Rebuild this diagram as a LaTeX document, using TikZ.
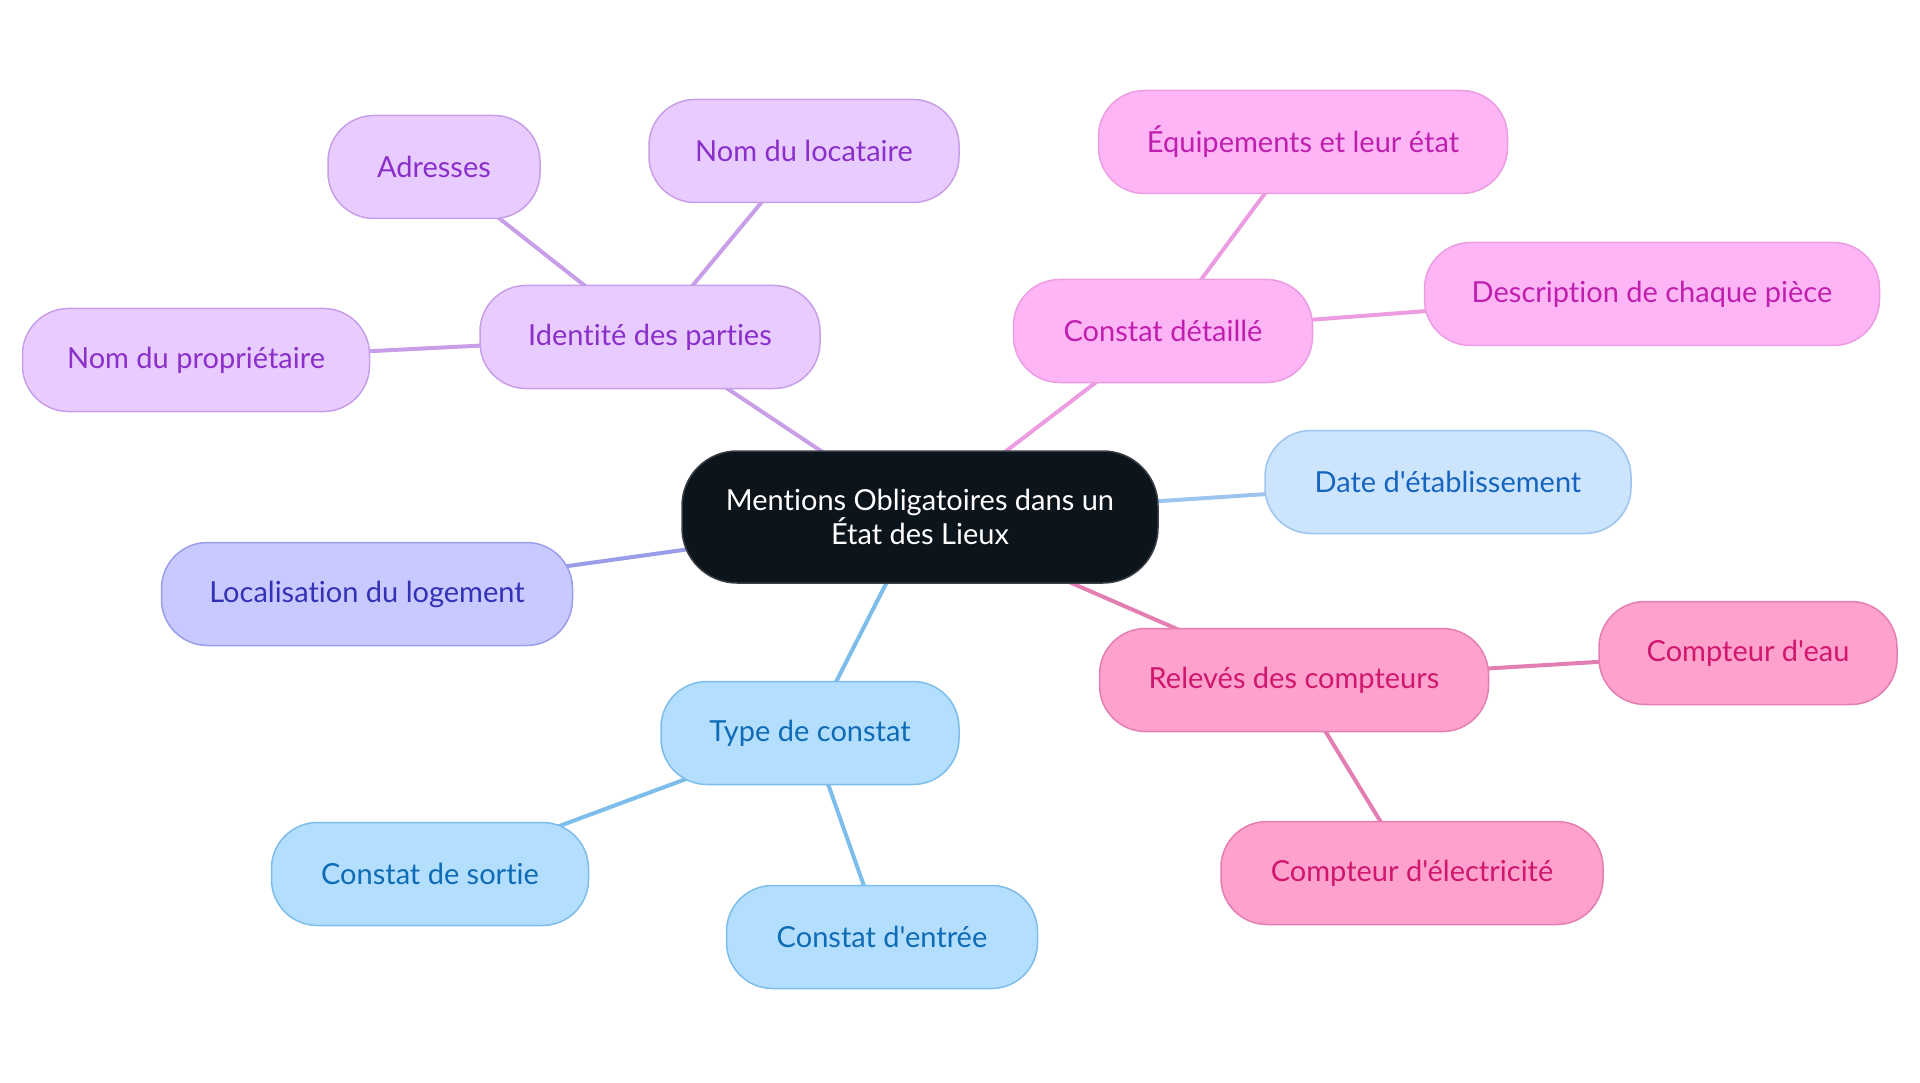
\documentclass[tikz,border=0pt]{standalone}
\usepackage{fontspec}
\setmainfont{Lato}[Ligatures={TeXOff,CommonOff}]
\usetikzlibrary{backgrounds}
\definecolor{cdark}{HTML}{0C141C}
\definecolor{cdarkb}{HTML}{3A3F45}
\definecolor{pufill}{HTML}{E9CCFF}
\definecolor{pudraw}{HTML}{C89EE8}
\definecolor{putext}{HTML}{8A2FC9}
\definecolor{pkfill}{HTML}{FDB5F6}
\definecolor{pkdraw}{HTML}{EC9DE2}
\definecolor{pktext}{HTML}{C01FAE}
\definecolor{rofill}{HTML}{FFA1CD}
\definecolor{rodraw}{HTML}{E37EB2}
\definecolor{rotext}{HTML}{CF176D}
\definecolor{blfill}{HTML}{B3DEFE}
\definecolor{bldraw}{HTML}{7DBDEB}
\definecolor{bltext}{HTML}{0E6BB5}
\definecolor{lbfill}{HTML}{CDE4FD}
\definecolor{lbdraw}{HTML}{9CC4EE}
\definecolor{lbtext}{HTML}{1565BF}
\definecolor{vifill}{HTML}{C8C9FF}
\definecolor{vidraw}{HTML}{9A9DE9}
\definecolor{vitext}{HTML}{3232B6}
\tikzset{
  box/.style={rounded corners=46pt, minimum height=103pt, line width=1.5pt,
    inner sep=0pt, font=\fontsize{29}{32}\selectfont, align=center},
  pu/.style={box, fill=pufill, draw=pudraw, text=putext},
  pk/.style={box, fill=pkfill, draw=pkdraw, text=pktext},
  ro/.style={box, fill=rofill, draw=rodraw, text=rotext},
  bl/.style={box, fill=blfill, draw=bldraw, text=bltext},
  lb/.style={box, fill=lbfill, draw=lbdraw, text=lbtext},
  vi/.style={box, fill=vifill, draw=vidraw, text=vitext},
  edge/.style={line width=4pt},
}
\begin{document}
\begin{tikzpicture}[x=1pt,y=-1pt]
\path[use as bounding box] (0,0) rectangle (1920,1083);
\node[box, fill=cdark, draw=cdarkb, text=white, minimum width=476pt, minimum height=132pt, rounded corners=55pt] (c) at (920,517) {Mentions Obligatoires dans un\\État des Lieux};
\node[pu, minimum width=340pt] (id) at (650,337) {Identité des parties};
\node[pu, minimum width=212pt] (adr) at (434,167) {Adresses};
\node[pu, minimum width=310pt] (loc) at (804,151) {Nom du locataire};
\node[pu, minimum width=347pt] (prop) at (196,360) {Nom du propriétaire};
\node[vi, minimum width=411pt] (loge) at (367,594) {Localisation du logement};
\node[bl, minimum width=298pt] (type) at (810,733) {Type de constat};
\node[bl, minimum width=317pt] (sort) at (430,874) {Constat de sortie};
\node[bl, minimum width=311pt] (entr) at (882,937) {Constat d'entrée};
\node[ro, minimum width=389pt] (rel) at (1294,680) {Relevés des compteurs};
\node[ro, minimum width=298pt] (eau) at (1748,653) {Compteur d'eau};
\node[ro, minimum width=382pt] (elec) at (1412,873) {Compteur d'électricité};
\node[lb, minimum width=366pt] (date) at (1448,482) {Date d'établissement};
\node[pk, minimum width=299pt] (det) at (1163,331) {Constat détaillé};
\node[pk, minimum width=409pt] (equ) at (1303,142) {Équipements et leur état};
\node[pk, minimum width=455pt] (desc) at (1652,294) {Description de chaque pièce};
\begin{scope}[on background layer]
\draw[edge, draw=pudraw] (c.center) -- (id.center);
\draw[edge, draw=pudraw] (id.center) -- (adr.center);
\draw[edge, draw=pudraw] (id.center) -- (loc.center);
\draw[edge, draw=pudraw] (id.center) -- (prop.center);
\draw[edge, draw=vidraw] (c.center) -- (loge.center);
\draw[edge, draw=bldraw] (c.center) -- (type.center);
\draw[edge, draw=bldraw] (type.center) -- (sort.center);
\draw[edge, draw=bldraw] (type.center) -- (entr.center);
\draw[edge, draw=rodraw] (c.center) -- (rel.center);
\draw[edge, draw=rodraw] (rel.center) -- (eau.center);
\draw[edge, draw=rodraw] (rel.center) -- (elec.center);
\draw[edge, draw=lbdraw] (c.center) -- (date.center);
\draw[edge, draw=pkdraw] (c.center) -- (det.center);
\draw[edge, draw=pkdraw] (det.center) -- (equ.center);
\draw[edge, draw=pkdraw] (det.center) -- (desc.center);
\end{scope}
\end{tikzpicture}
\end{document}
